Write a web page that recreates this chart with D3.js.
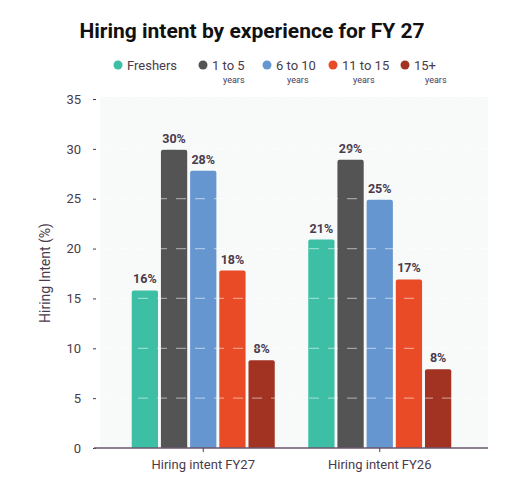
<!DOCTYPE html>
<html><head><meta charset="utf-8">
<script src="https://cdn.jsdelivr.net/npm/d3@7"></script>
<style>body{margin:0;background:#fff;font-family:Roboto,"Noto Sans",sans-serif}</style>
</head><body><svg id="c" width="505" height="495"></svg>
<script>
const categories = ["Hiring intent FY27", "Hiring intent FY26"];
const seriesNames = ["Freshers", "1 to 5", "6 to 10", "11 to 15", "15+"];
const seriesSub = ["", "years", "years", "years", "years"];
const colors = ["#3cbfa5", "#545454", "#6696d0", "#e84b25", "#a23322"];
const values = [[15.8, 29.9, 27.8, 17.8, 8.8], [20.9, 28.9, 24.9, 16.9, 7.9]];
const labels = [["16%", "30%", "28%", "18%", "8%"], ["21%", "29%", "25%", "17%", "8%"]];
const yTicks = [0, 5, 10, 15, 20, 25, 30, 35];

const svg = d3.select("#c");
const txt = "#4a3b4c";
const m = {l: 100, r: 488, t: 99, b: 448};
svg.append("text").attr("x", 252).attr("y", 38).attr("text-anchor", "middle")
  .attr("font-size", 21).attr("font-weight", 700).attr("fill", "#111").text("Hiring intent by experience for FY 27");

// legend
const lx = [118, 203, 267, 333, 405];
seriesNames.forEach((s, i) => {
  const g = svg.append("g");
  g.append("circle").attr("cx", lx[i]).attr("cy", 65).attr("r", 4.5).attr("fill", colors[i]);
  g.append("text").attr("x", lx[i] + 9).attr("y", 70).attr("font-size", 13).attr("fill", txt).text(s);
  if (seriesSub[i]) g.append("text").attr("x", lx[i] + 20).attr("y", 83).attr("font-size", 9).attr("fill", txt).text(seriesSub[i]);
});

svg.append("rect").attr("x", m.l).attr("y", m.t - 2).attr("width", m.r - m.l).attr("height", m.b - m.t + 2).attr("fill", "#f8f9f9");

const y = d3.scaleLinear().domain([0, 35]).range([m.b, m.t]);
const x0 = d3.scaleBand().domain(categories).range([115, 468]).padding(0);
const x1 = d3.scaleBand().domain(d3.range(5)).range([0, 143]).paddingInner(0.1);

categories.forEach((c, ci) => {
  values[ci].forEach((v, si) => {
    const bx = x0(c) + (x0.bandwidth() - 143) / 2 + x1(si), w = x1.bandwidth();
    const top = y(v), h = m.b - top, r = 2;
    svg.append("path").attr("fill", colors[si])
      .attr("d", `M${bx},${m.b}V${top + r}Q${bx},${top} ${bx + r},${top}H${bx + w - r}Q${bx + w},${top} ${bx + w},${top + r}V${m.b}Z`);
    svg.append("text").attr("x", bx + w / 2).attr("y", top - 7).attr("text-anchor", "middle")
      .attr("font-size", 12.5).attr("font-weight", 700).attr("fill", txt).text(labels[ci][si]);
  });
});

// gridlines dashed over bars
yTicks.filter(t => t > 0).forEach(t => {
  svg.append("line").attr("x1", m.l).attr("x2", m.r).attr("y1", y(t)).attr("y2", y(t))
    .attr("stroke", "#fff").attr("stroke-opacity", 0.45).attr("stroke-width", 1.2).attr("stroke-dasharray", "10,9");
});

const ya = svg.append("g").attr("transform", `translate(${m.l - 4},0)`)
  .call(d3.axisLeft(y).tickValues(yTicks).tickSize(3).tickPadding(12));
ya.select(".domain").remove();
ya.selectAll("text").attr("font-size", 13).attr("fill", txt).attr("font-family", "Roboto");
ya.selectAll("line").attr("stroke", txt);

const xa = svg.append("g").attr("transform", `translate(0,${m.b})`)
  .call(d3.axisBottom(x0).tickSize(4).tickPadding(8));
xa.select(".domain").attr("d", `M${m.l - 6},0H${m.r}`).attr("stroke", "#6b5670").attr("stroke-width", 1.5);
xa.selectAll("line").attr("stroke", txt);
xa.selectAll("text").attr("font-size", 13).attr("fill", txt).attr("font-family", "Roboto");

svg.append("text").attr("transform", "translate(50,273) rotate(-90)").attr("text-anchor", "middle")
  .attr("font-size", 14).attr("fill", txt).text("Hiring Intent (%)");
</script></body></html>
